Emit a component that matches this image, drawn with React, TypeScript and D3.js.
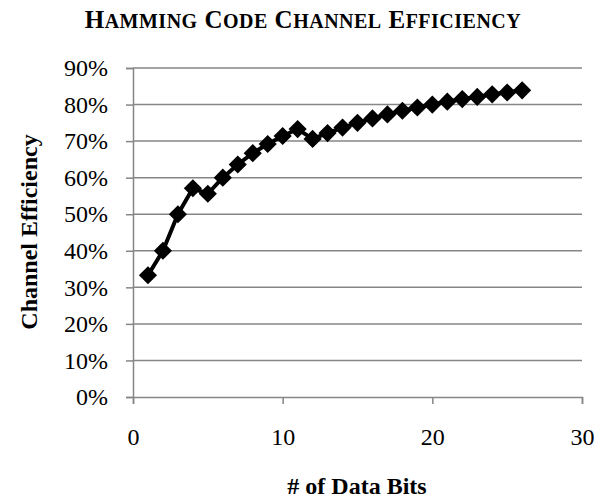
import { useEffect, useRef } from 'react';
import * as d3 from 'd3';

// # of data bits and channel efficiency (%)
const dataBits = [1, 2, 3, 4, 5, 6, 7, 8, 9, 10, 11, 12, 13, 14, 15, 16, 17, 18, 19, 20, 21, 22, 23, 24, 25, 26];
const efficiency = [33.3, 40, 50, 57.1, 55.6, 60, 63.6, 66.7, 69.2, 71.4, 73.3, 70.6, 72.2, 73.7, 75, 76.2, 77.3, 78.3, 79.2, 80, 80.8, 81.5, 82.1, 82.8, 83.3, 83.9];
const xTicks = [0, 10, 20, 30];
const yTicks = [0, 10, 20, 30, 40, 50, 60, 70, 80, 90];
const titleWords = ['Hamming', 'Code', 'Channel', 'Efficiency'];

const width = 606;
const height = 502;

export default function App() {
  const svgRef = useRef<SVGSVGElement>(null);

  useEffect(() => {
    if (!svgRef.current) return;
    const svg = d3.select(svgRef.current);
    svg.selectAll('*').remove();

    const font = '"Liberation Serif", "Times New Roman", serif';
    const left = 133, right = 582, top = 68, bottom = 397;

    const x = d3.scaleLinear().domain([0, 30]).range([left, right]);
    const y = d3.scaleLinear().domain([0, 90]).range([bottom, top]);

    const grid = '#868686';

    // horizontal gridlines
    svg.append('g')
      .selectAll('line')
      .data(yTicks.filter(t => t > 0))
      .enter().append('line')
      .attr('x1', left).attr('x2', right)
      .attr('y1', d => y(d)).attr('y2', d => y(d))
      .attr('stroke', grid).attr('stroke-width', 1.5);

    // y axis
    const yAxis = svg.append('g')
      .attr('transform', `translate(${left},0)`)
      .call(d3.axisLeft(y).tickValues(yTicks).tickSize(7).tickPadding(18).tickFormat(d => `${d}%`));
    yAxis.select('.domain').attr('stroke', grid).attr('stroke-width', 1.5);
    yAxis.selectAll('.tick line').attr('stroke', grid).attr('stroke-width', 1.5);
    yAxis.selectAll('.tick text')
      .style('font-family', font).style('font-size', '24px').attr('fill', '#000');

    // x axis
    const xAxis = svg.append('g')
      .attr('transform', `translate(0,${bottom})`)
      .call(d3.axisBottom(x).tickValues(xTicks).tickSize(7).tickPadding(24).tickFormat(d => `${d}`));
    xAxis.select('.domain').attr('stroke', grid).attr('stroke-width', 1.5);
    xAxis.selectAll('.tick line').attr('stroke', grid).attr('stroke-width', 1.5);
    xAxis.selectAll('.tick text')
      .style('font-family', font).style('font-size', '24px').attr('fill', '#000');

    const pts = dataBits.map((b, i) => ({ b, v: efficiency[i] }));

    const line = d3.line<{ b: number; v: number }>()
      .x(d => x(d.b))
      .y(d => y(d.v));

    svg.append('path')
      .datum(pts)
      .attr('fill', 'none')
      .attr('stroke', '#000')
      .attr('stroke-width', 4)
      .attr('stroke-linejoin', 'round')
      .attr('d', line);

    // diamond markers
    svg.append('g')
      .selectAll('path')
      .data(pts)
      .enter().append('path')
      .attr('transform', d => `translate(${x(d.b)},${y(d.v)}) rotate(45)`)
      .attr('d', d3.symbol().type(d3.symbolSquare).size(165)())
      .attr('fill', '#000');

    // title in small caps
    const title = svg.append('text')
      .attr('x', 303).attr('y', 28)
      .attr('text-anchor', 'middle')
      .style('font-family', font).style('font-weight', 'bold')
      .style('letter-spacing', '0.5px');
    titleWords.forEach((w, i) => {
      title.append('tspan').style('font-size', '25px').text((i > 0 ? ' ' : '') + w[0]);
      title.append('tspan').style('font-size', '20px').text(w.slice(1).toUpperCase());
    });

    // axis titles
    svg.append('text')
      .attr('transform', `translate(37,232) rotate(-90)`)
      .attr('text-anchor', 'middle')
      .style('font-family', font).style('font-size', '24px').style('font-weight', 'bold')
      .text('Channel Efficiency');

    svg.append('text')
      .attr('x', 357).attr('y', 494)
      .attr('text-anchor', 'middle')
      .style('font-family', font).style('font-size', '24px').style('font-weight', 'bold')
      .text('# of Data Bits');
  }, []);

  return (
    <svg
      ref={svgRef}
      width={width}
      height={height}
      style={{ position: 'absolute', left: 0, top: 0, background: '#fff' }}
    />
  );
}
